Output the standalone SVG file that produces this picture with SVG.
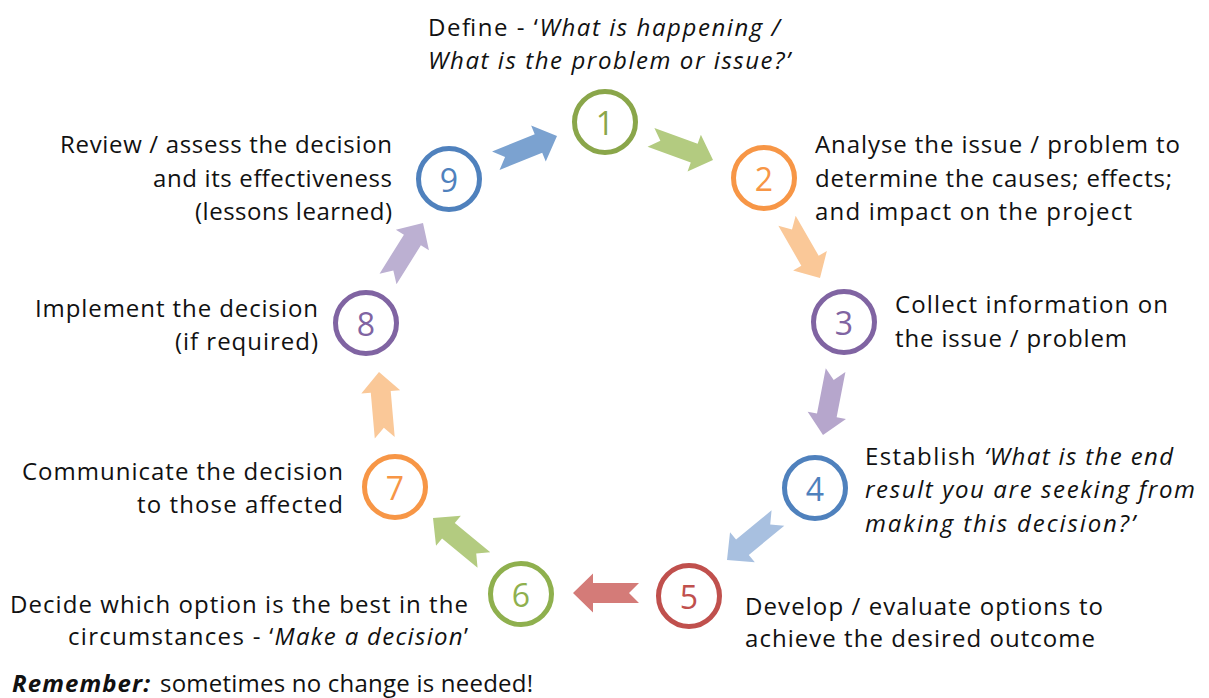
<svg xmlns="http://www.w3.org/2000/svg" width="1209" height="698" viewBox="0 0 1209 698">
  <style>
    .lbl { font-family: "Open Sans", "Liberation Sans", sans-serif; font-size: 24px; fill: #111; }
    .it { font-style: italic; }
    .num { font-family: "Open Sans", "Liberation Sans", sans-serif; font-size: 32px; text-anchor: middle; dominant-baseline: central; }
    .ring { fill: #fff; stroke-width: 5; }
  </style>
  <defs>
    <!-- notched block arrow, tip at origin, pointing along +x -->
    <path id="arw" d="M0,0 L-20,-19.5 L-20,-10 L-66,-10 L-56,0 L-66,10 L-20,10 L-20,19.5 Z"/>
  </defs>
  <rect width="1209" height="698" fill="#fff"/>

  <g id="connectors">
    <use href="#arw" fill="#b3cb80" transform="translate(713,160) rotate(20)"/>
    <use href="#arw" fill="#fac898" transform="translate(820,278) rotate(60)"/>
    <use href="#arw" fill="#b6a6cc" transform="translate(823,435) rotate(101)"/>
    <use href="#arw" fill="#a8c0e0" transform="translate(727,560) rotate(140.5)"/>
    <use href="#arw" fill="#d47b78" transform="translate(573,593) rotate(180)"/>
    <use href="#arw" fill="#b3cb80" transform="translate(433,518) rotate(219.5)"/>
    <use href="#arw" fill="#fac898" transform="translate(379,372) rotate(265)"/>
    <use href="#arw" fill="#bcb0d2" transform="translate(423,223) rotate(302)"/>
    <use href="#arw" fill="#7ba2d0" transform="translate(557,136) rotate(-22)"/>
  </g>

  <g id="step1">
    <circle class="ring" cx="605" cy="122" r="30.5" stroke="#8aa64a"/>
    <text class="num" x="605" y="122" fill="#8aa64a">1</text>
    <text class="lbl" x="428" y="36" textLength="352" lengthAdjust="spacing">Define - ‘<tspan class="it">What is happening /</tspan></text>
    <text class="lbl it" x="428" y="69" textLength="362" lengthAdjust="spacing">What is the problem or issue?’</text>
  </g>
  <g id="step2">
    <circle class="ring" cx="764" cy="178" r="30.5" stroke="#f79646"/>
    <text class="num" x="764" y="178" fill="#f79646">2</text>
    <text class="lbl" x="815" y="153" textLength="365" lengthAdjust="spacing">Analyse the issue / problem to</text>
    <text class="lbl" x="815" y="187" textLength="357" lengthAdjust="spacing">determine the causes; effects;</text>
    <text class="lbl" x="815" y="220" textLength="317" lengthAdjust="spacing">and impact on the project</text>
  </g>
  <g id="step3">
    <circle class="ring" cx="844" cy="322" r="30.5" stroke="#8064a2"/>
    <text class="num" x="844" y="322" fill="#8064a2">3</text>
    <text class="lbl" x="895" y="313" textLength="273" lengthAdjust="spacing">Collect information on</text>
    <text class="lbl" x="895" y="347" textLength="232" lengthAdjust="spacing">the issue / problem</text>
  </g>
  <g id="step4">
    <circle class="ring" cx="815" cy="488" r="30.5" stroke="#4f81bd"/>
    <text class="num" x="815" y="488" fill="#4f81bd">4</text>
    <text class="lbl" x="865" y="465" textLength="308" lengthAdjust="spacing">Establish <tspan class="it">‘What is the end</tspan></text>
    <text class="lbl it" x="865" y="498" textLength="330" lengthAdjust="spacing">result you are seeking from</text>
    <text class="lbl it" x="865" y="532" textLength="270" lengthAdjust="spacing">making this decision?’</text>
  </g>
  <g id="step5">
    <circle class="ring" cx="689" cy="596" r="30.5" stroke="#c0504d"/>
    <text class="num" x="689" y="596" fill="#c0504d">5</text>
    <text class="lbl" x="745" y="615" textLength="358" lengthAdjust="spacing">Develop / evaluate options to</text>
    <text class="lbl" x="745" y="647" textLength="350" lengthAdjust="spacing">achieve the desired outcome</text>
  </g>
  <g id="step6">
    <circle class="ring" cx="521" cy="594" r="30.5" stroke="#8fb04e"/>
    <text class="num" x="521" y="594" fill="#8fb04e">6</text>
    <text class="lbl" x="10" y="613" textLength="458" lengthAdjust="spacing">Decide which option is the best in the</text>
    <text class="lbl" x="68" y="645" textLength="400" lengthAdjust="spacing">circumstances - ‘<tspan class="it">Make a decision</tspan>’</text>
  </g>
  <g id="step7">
    <circle class="ring" cx="395" cy="487" r="30.5" stroke="#f79646"/>
    <text class="num" x="395" y="487" fill="#f79646">7</text>
    <text class="lbl" x="22" y="480" textLength="321" lengthAdjust="spacing">Communicate the decision</text>
    <text class="lbl" x="137" y="513" textLength="206" lengthAdjust="spacing">to those affected</text>
  </g>
  <g id="step8">
    <circle class="ring" cx="366" cy="323" r="30.5" stroke="#8064a2"/>
    <text class="num" x="366" y="323" fill="#8064a2">8</text>
    <text class="lbl" x="35" y="317" textLength="283" lengthAdjust="spacing">Implement the decision</text>
    <text class="lbl" x="175" y="350" textLength="143" lengthAdjust="spacing">(if required)</text>
  </g>
  <g id="step9">
    <circle class="ring" cx="449" cy="179" r="30.5" stroke="#4f81bd"/>
    <text class="num" x="449" y="179" fill="#4f81bd">9</text>
    <text class="lbl" x="60" y="153" textLength="332" lengthAdjust="spacing">Review / assess the decision</text>
    <text class="lbl" x="153" y="187" textLength="239" lengthAdjust="spacing">and its effectiveness</text>
    <text class="lbl" x="195" y="220" textLength="197" lengthAdjust="spacing">(lessons learned)</text>
  </g>

  <g id="note">
    <text class="lbl" x="12" y="692" font-weight="bold" font-style="italic" textLength="138" lengthAdjust="spacing">Remember:</text>
    <text class="lbl" x="160" y="692" textLength="373" lengthAdjust="spacing">sometimes no change is needed!</text>
  </g>
</svg>
